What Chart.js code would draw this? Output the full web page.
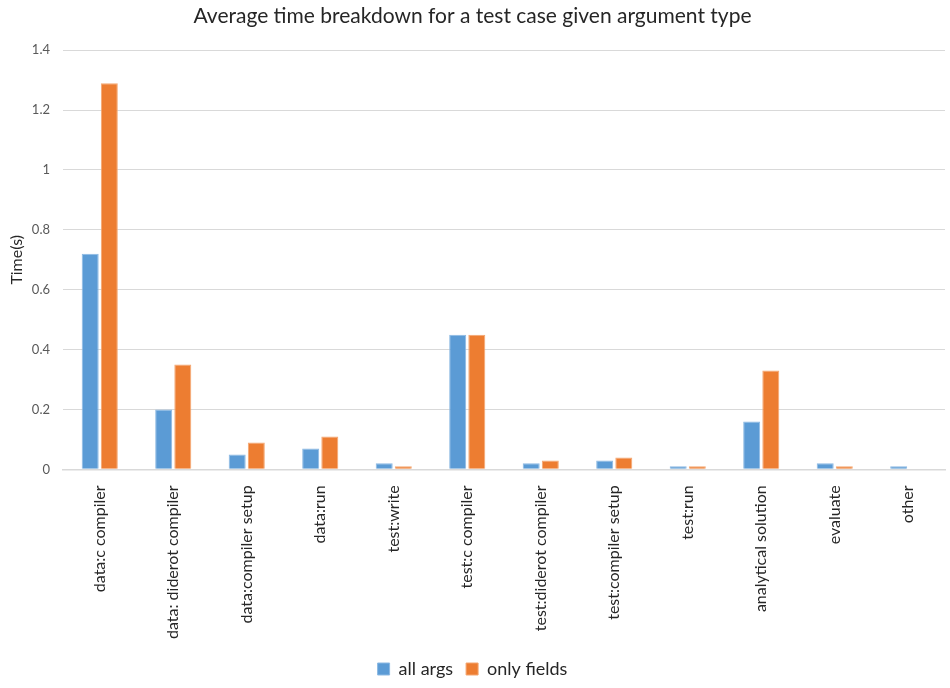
<!DOCTYPE html>
<html>
<head>
<meta charset="utf-8">
<script src="https://cdn.jsdelivr.net/npm/chart.js@4/dist/chart.umd.min.js"></script>
<style>
  html, body { margin: 0; padding: 0; background: #fff; }
  #wrap { width: 950px; height: 688px; position: relative; }
</style>
</head>
<body>
<div id="wrap"><canvas id="c"></canvas></div>
<script>
// Stage names along the x axis
const categories = [
  "data:c compiler", "data: diderot compiler", "data:compiler setup", "data:run",
  "test:write", "test:c compiler", "test:diderot compiler", "test:compiler setup",
  "test:run", "analytical solution", "evaluate", "other"
];

// Average seconds per stage
const allArgs    = [0.72, 0.20, 0.05, 0.07, 0.02, 0.45, 0.02, 0.03, 0.01, 0.16, 0.02, 0.01];
const onlyFields = [1.29, 0.35, 0.09, 0.11, 0.01, 0.45, 0.03, 0.04, 0.01, 0.33, 0.01, 0];

// Value axis ticks
const yTicks = ["0", "0.2", "0.4", "0.6", "0.8", "1", "1.2", "1.4"];

const FONT = "Lato, 'Open Sans', sans-serif";

new Chart(document.getElementById("c"), {
  type: "bar",
  data: {
    labels: categories,
    datasets: [
      {
        label: "all args",
        data: allArgs,
        backgroundColor: "#5b9bd5",
        borderColor: "#8cb9e3",
        borderWidth: 1
      },
      {
        label: "only fields",
        data: onlyFields,
        backgroundColor: "#ed7d31",
        borderColor: "#f4a670",
        borderWidth: 1
      }
    ]
  },
  options: {
    responsive: true,
    maintainAspectRatio: false,
    animation: false,
    categoryPercentage: 0.52,
    barPercentage: 0.89,
    layout: { padding: { left: 0, right: 5, top: 0, bottom: 0 } },
    plugins: {
      title: {
        display: true,
        text: "Average time breakdown for a test case given argument type",
        color: "#262626",
        font: { family: FONT, size: 21, weight: "normal" },
        padding: { top: 4, bottom: 21 }
      },
      legend: {
        position: "bottom",
        labels: {
          color: "#262626",
          font: { family: FONT, size: 18 },
          boxWidth: 12,
          boxHeight: 12,
          padding: 13
        }
      },
      tooltip: { enabled: false }
    },
    scales: {
      x: {
        grid: { display: false },
        border: { color: "#d9d9d9", width: 1.5 },
        ticks: {
          color: "#262626",
          font: { family: FONT, size: 16 },
          minRotation: 90,
          maxRotation: 90,
          autoSkip: false,
          padding: 8
        }
      },
      y: {
        min: 0,
        max: 1.4,
        afterFit: (scale) => { scale.width = 63; },
        ticks: {
          stepSize: 0.2,
          color: "#595959",
          font: { family: FONT, size: 13 },
          padding: 13,
          callback: (v, i) => yTicks[i]
        },
        grid: { color: "#d9d9d9", drawTicks: false },
        border: { display: false },
        title: {
          display: true,
          text: "Time(s)",
          color: "#262626",
          font: { family: FONT, size: 16 },
          padding: { top: 7, bottom: 0 }
        }
      }
    }
  }
});
</script>
</body>
</html>
